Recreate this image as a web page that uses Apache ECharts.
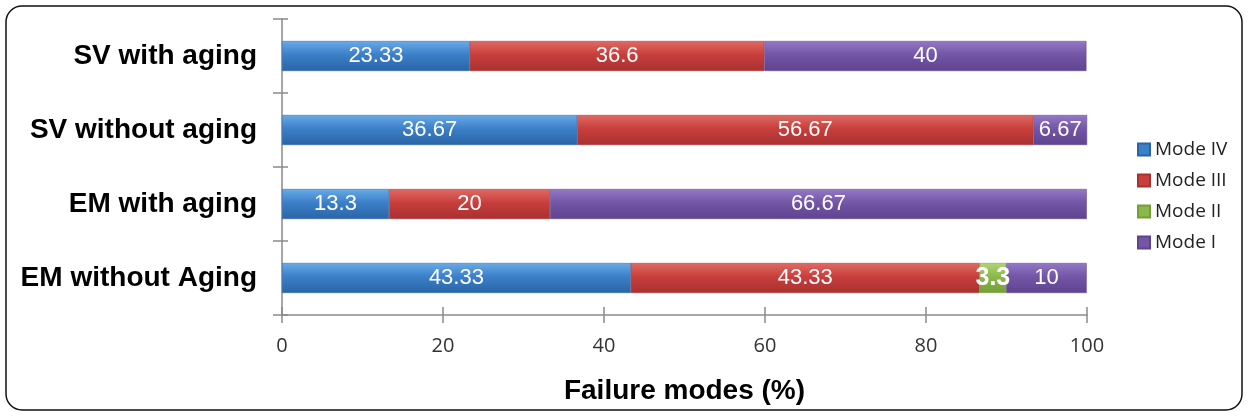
<!DOCTYPE html>
<html>
<head>
<meta charset="utf-8">
<script src="https://cdn.jsdelivr.net/npm/echarts@6/dist/echarts.min.js"></script>
<style>
  html, body { margin: 0; padding: 0; background: #fff; }
  #chart { width: 1249px; height: 417px; }
</style>
</head>
<body>
<div id="chart"></div>
<script>
// Datos
const categories = ["SV with aging", "SV without aging", "EM with aging", "EM without Aging"];
const modeIV = [23.33, 36.67, 13.3, 43.33];
const modeIII = [36.6, 56.67, 20, 43.33];
const modeII = [null, null, null, 3.3];
const modeI = [40, 6.67, 66.67, 10];
const xTicks = [0, 20, 40, 60, 80, 100];

// Degradado vertical para el efecto brillante de las barras
function gloss(top, mid, bottom) {
  return new echarts.graphic.LinearGradient(0, 0, 0, 1, [
    { offset: 0, color: top },
    { offset: 0.45, color: mid },
    { offset: 1, color: bottom },
  ]);
}

const labelBase = {
  show: true,
  position: "inside",
  color: "#fff",
  fontFamily: "Liberation Sans, Arial, sans-serif",
  fontSize: 22,
  formatter: (p) => (p.value == null ? "" : String(p.value)),
};

function makeSeries(name, data, colors, extraLabel) {
  return {
    name: name,
    type: "bar",
    stack: "total",
    data: data,
    barWidth: 30,
    itemStyle: { color: gloss(colors[0], colors[1], colors[2]), borderColor: colors[2], borderWidth: 0.5 },
    label: Object.assign({}, labelBase, extraLabel || {}),
  };
}

const legendColors = ["#3b80c9", "#c83f3c", "#8cb84b", "#7455a6"];
const series = [
  makeSeries("Mode IV", modeIV, ["#6aaae6", "#3b80c9", "#2a64a6"]),
  makeSeries("Mode III", modeIII, ["#e06a66", "#c83f3c", "#a93030"]),
  makeSeries("Mode II", modeII, ["#b0d576", "#8cb84b", "#759e38"], { fontSize: 25, fontWeight: "bold" }),
  makeSeries("Mode I", modeI, ["#9479c7", "#7455a6", "#5f4390"]),
];
series.forEach((s, i) => { s.color = legendColors[i]; });

const axisGray = { color: "#8a8a8a", width: 1.5 };
const boldFont = "Liberation Sans, Arial, sans-serif";

const chart = echarts.init(document.getElementById("chart"));
chart.setOption({
  animation: false,
  grid: { left: 282, right: 162, top: 19, bottom: 102 },
  legend: {
    orient: "vertical",
    left: 1132,
    top: 135,
    itemWidth: 12,
    itemHeight: 12,
    itemGap: 12,
    icon: "rect",
    textStyle: { color: "#222", fontSize: 19, fontFamily: "Open Sans, sans-serif" },
    data: series.map((s, i) => ({ name: s.name, itemStyle: { color: legendColors[i] } })),
  },
  xAxis: [
    {
      type: "value",
      min: xTicks[0],
      max: xTicks[xTicks.length - 1],
      interval: 20,
      name: "Failure modes (%)",
      nameLocation: "middle",
      nameGap: 62,
      nameTextStyle: { color: "#000", fontSize: 28, fontWeight: "bold", fontFamily: boldFont },
      axisLine: { show: true, lineStyle: axisGray },
      axisTick: { show: true, length: 8, lineStyle: axisGray },
      axisLabel: { color: "#333", fontSize: 20, margin: 21, fontFamily: "Open Sans, sans-serif" },
      splitLine: { show: false },
    },
    {
      // segunda escala solo para que las marcas crucen el eje
      type: "value",
      position: "bottom",
      min: xTicks[0],
      max: xTicks[xTicks.length - 1],
      interval: 20,
      axisLine: { show: false },
      axisTick: { show: true, inside: true, length: 8, lineStyle: axisGray },
      axisLabel: { show: false },
      splitLine: { show: false },
    },
  ],
  yAxis: [
    {
      type: "category",
      data: categories,
      inverse: true,
      axisLine: { show: true, lineStyle: axisGray },
      axisTick: { show: true, length: 9, lineStyle: axisGray },
      axisLabel: { color: "#000", fontSize: 28, fontWeight: "bold", margin: 25, fontFamily: boldFont },
    },
    {
      type: "category",
      data: categories,
      inverse: true,
      position: "left",
      axisLine: { show: false },
      axisTick: { show: true, inside: true, length: 6, lineStyle: axisGray },
      axisLabel: { show: false },
    },
  ],
  graphic: [
    {
      type: "rect",
      shape: { x: 6, y: 6, width: 1236, height: 404, r: 16 },
      style: { fill: "none", stroke: "#111", lineWidth: 1.5 },
      silent: true,
    },
  ],
  series: series,
});
</script>
</body>
</html>
